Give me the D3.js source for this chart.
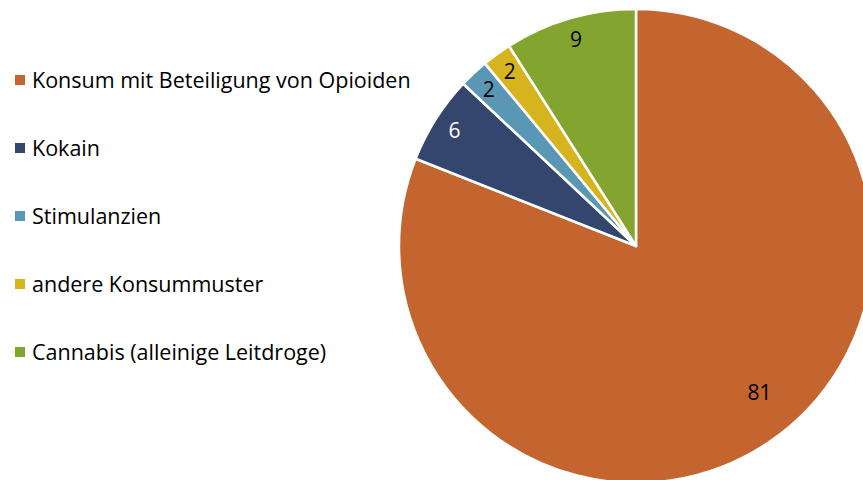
<!DOCTYPE html>
<html>
<head>
<meta charset="utf-8">
<script src="https://cdn.jsdelivr.net/npm/d3@7"></script>
<style>
  body { margin: 0; background: #fff; }
  svg { display: block; font-family: "Open Sans", "Noto Sans", sans-serif; }
</style>
</head>
<body>
<svg width="863" height="480"></svg>
<script>
// data
var categories = ["Konsum mit Beteiligung von Opioiden", "Kokain", "Stimulanzien", "andere Konsummuster", "Cannabis (alleinige Leitdroge)"]
var values = [81, 6, 2, 2, 9]
var colors = ["#C4652F", "#34466E", "#5A97B5", "#D6B41E", "#83A52F"]
var labelColors = ["#000", "#fff", "#000", "#000", "#000"]

var data = categories.map(function(c, i){ return {name: c, value: values[i], i: i} })

var svg = d3.select("svg")
var cx = 636, cy = 246, radius = 237

var pie = d3.pie().sort(null).value(function(d){ return d.value })
var arc = d3.arc().innerRadius(0).outerRadius(radius)
var labelArcSmall = d3.arc().innerRadius(215).outerRadius(215)
// big slice label sits a bit inside, like Excel's best fit
var labelArcBig = d3.arc().innerRadius(192).outerRadius(192)

var g = svg.append("g").attr("transform", "translate(" + cx + "," + cy + ")")
var arcs = pie(data)

g.selectAll("path").data(arcs).enter().append("path")
    .attr("d", arc)
    .attr("fill", function(d){ return colors[d.data.i] })
    .attr("stroke", "#fff")
    .attr("stroke-width", 2.5)
    .attr("stroke-linejoin", "round")

g.selectAll("text").data(arcs).enter().append("text")
    .attr("transform", function(d){
        if (d.data.value > 50) {
            // shift the big label towards the start of the slice
            var a = d.startAngle + (d.endAngle - d.startAngle) * 0.48
            return "translate(" + [192 * Math.sin(a), -192 * Math.cos(a)] + ")"
        }
        return "translate(" + labelArcSmall.centroid(d) + ")"
    })
    .attr("text-anchor", "middle")
    .attr("dy", "0.35em")
    .attr("font-size", 21)
    .attr("fill", function(d){ return labelColors[d.data.i] })
    .text(function(d){ return d.data.value })

// legend
var ly = d3.scalePoint().domain(d3.range(categories.length)).range([80, 352])
var legend = svg.append("g").selectAll("g").data(data).enter().append("g")
    .attr("transform", function(d){ return "translate(15," + ly(d.i) + ")" })
legend.append("rect")
    .attr("x", 0).attr("y", -5).attr("width", 10).attr("height", 10)
    .attr("fill", function(d){ return colors[d.i] })
legend.append("text")
    .attr("x", 17).attr("dy", "0.35em")
    .attr("font-size", 21.5)
    .attr("fill", "#000")
    .text(function(d){ return d.name })
</script>
</body>
</html>
